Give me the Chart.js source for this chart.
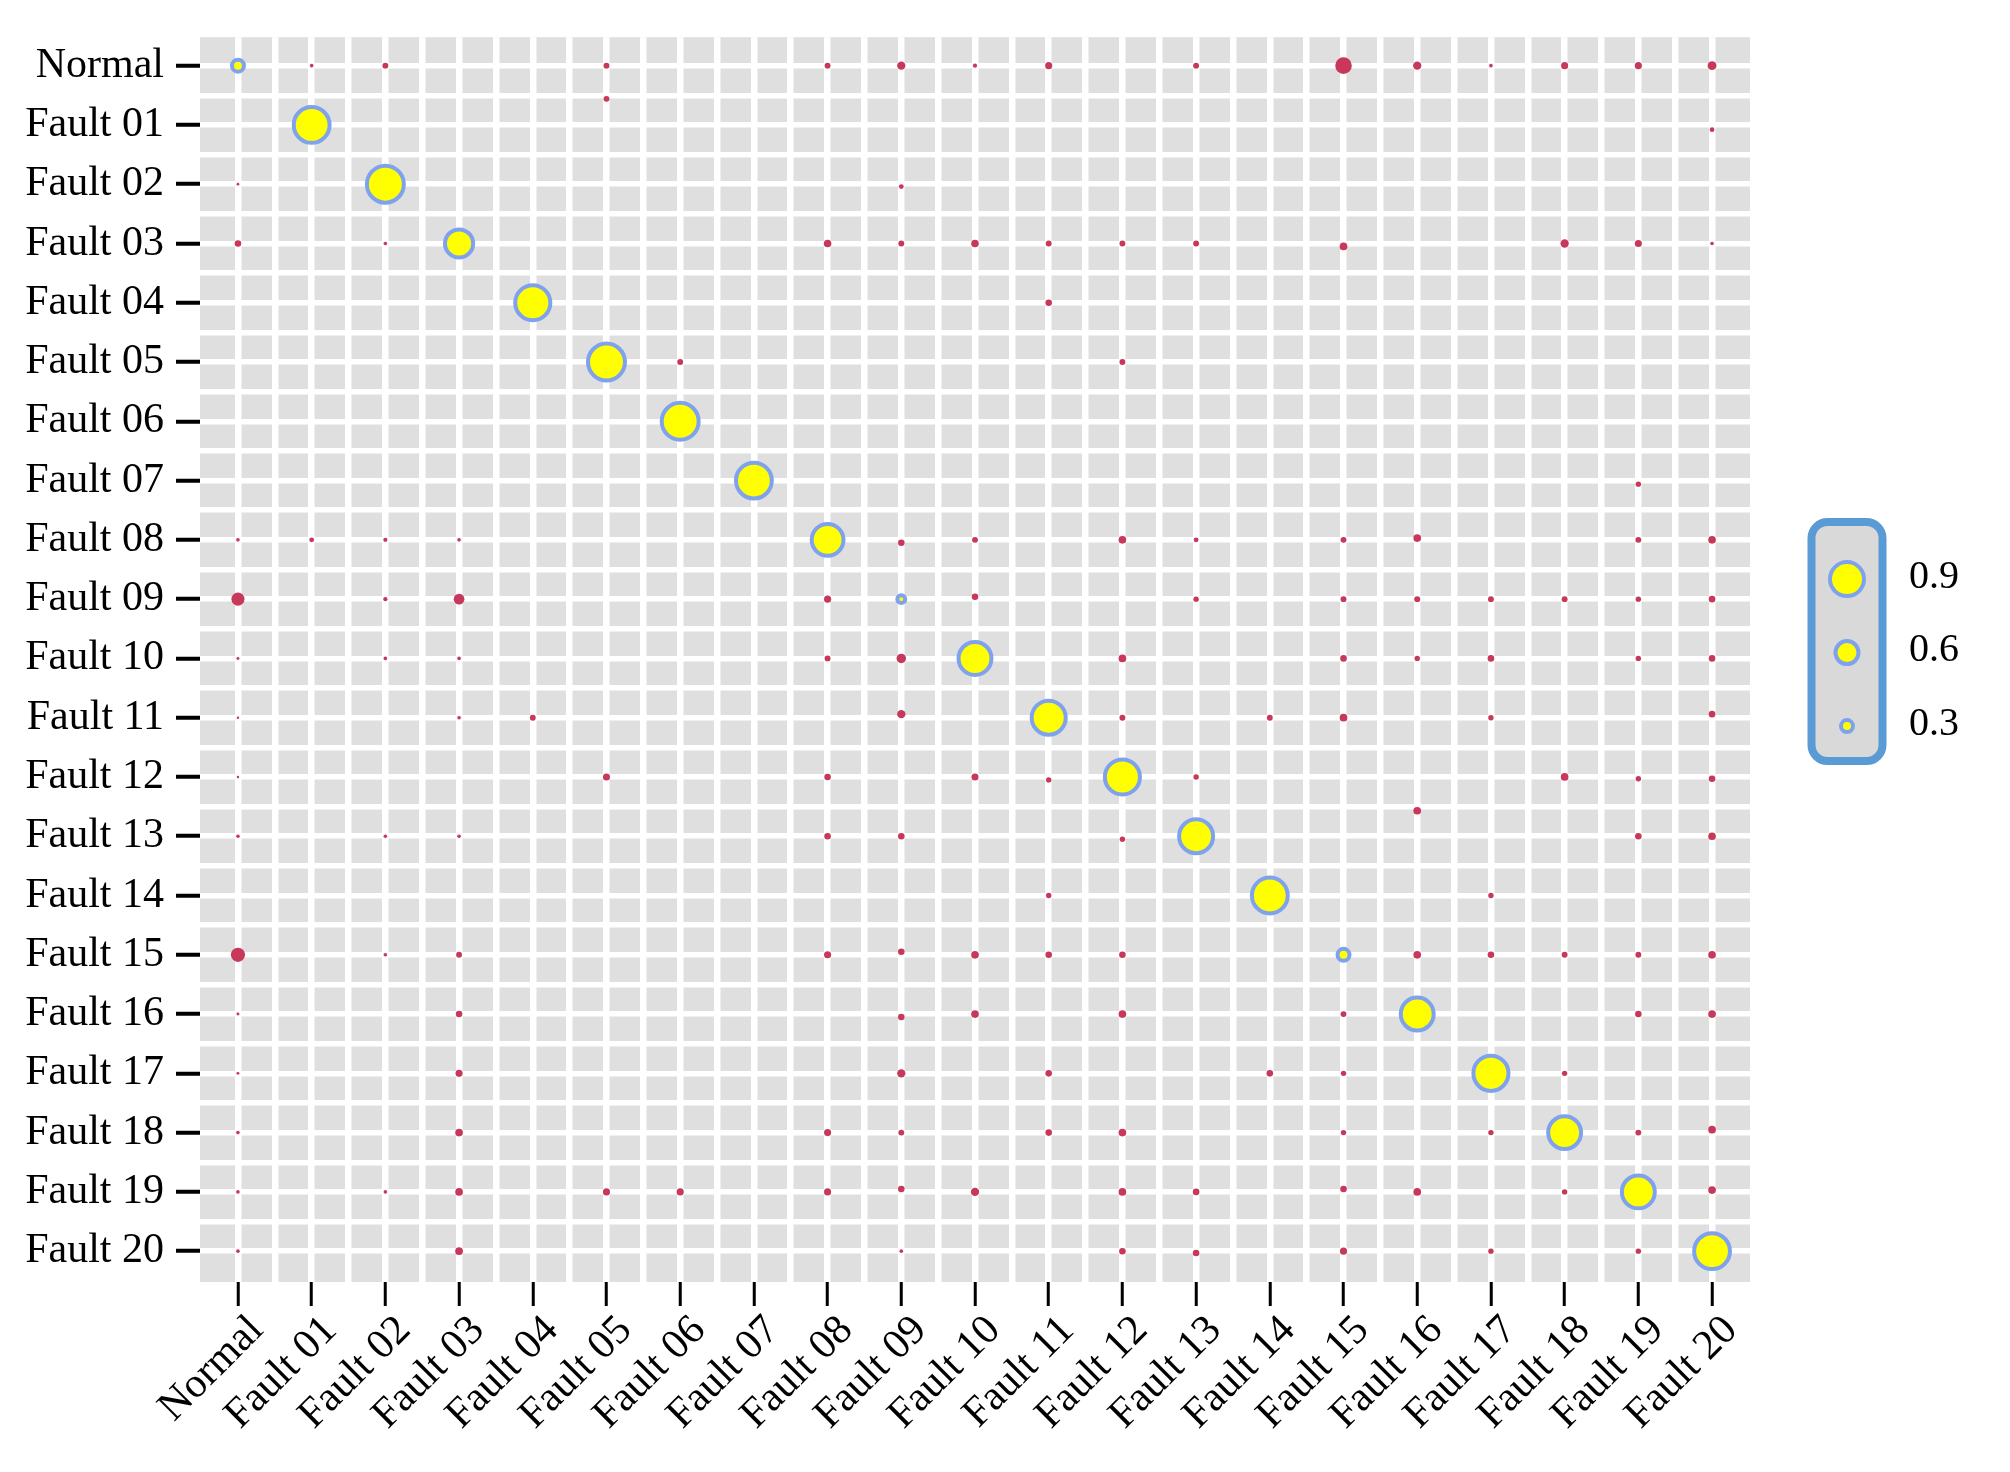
<!DOCTYPE html>
<html>
<head>
<meta charset="utf-8">
<script src="https://cdn.jsdelivr.net/npm/chart.js@4.4.1/dist/chart.umd.min.js"></script>
<style>
  html, body { margin: 0; padding: 0; background: #fff; }
  #wrap { width: 2010px; height: 1472px; }
</style>
</head>
<body>
<div id="wrap"><canvas id="confChart" width="2010" height="1472"></canvas></div>
<script>
// classes (same order on both axes, Normal on top / left)
const classes = ['Normal', 'Fault 01', 'Fault 02', 'Fault 03', 'Fault 04', 'Fault 05', 'Fault 06',
  'Fault 07', 'Fault 08', 'Fault 09', 'Fault 10', 'Fault 11', 'Fault 12', 'Fault 13', 'Fault 14',
  'Fault 15', 'Fault 16', 'Fault 17', 'Fault 18', 'Fault 19', 'Fault 20'];

// correctly classified share per class (yellow bubbles on the diagonal)
const diagonal = [0.30, 0.95, 0.98, 0.74, 0.93, 0.98, 0.98, 0.95, 0.84, 0.19, 0.87,
  0.90, 0.93, 0.90, 0.95, 0.30, 0.87, 0.93, 0.87, 0.87, 0.95];

// misclassified share: [true row, predicted column, share]
const misclassified = [
  [0, 1, .009], [0, 2, .024], [0, 5, .024], [0.56, 5, .024], [0, 8, .024], [0, 9, .048], [0, 10, .012],
  [0, 11, .035], [0, 13, .024], [0, 15, .19], [0, 16, .048], [0, 17, .009], [0, 18, .035], [0, 19, .035], [0, 20, .055],
  [1.08, 20, .016],
  [2, 0, .005], [2.04, 9, .016],
  [3, 0, .03], [3, 2, .009], [3, 8, .04], [3, 9, .024], [3, 10, .04], [3, 11, .024], [3, 12, .024],
  [3, 13, .024], [3.05, 15, .041], [3, 18, .048], [3, 19, .035], [3, 20, .009],
  [4, 11, .03],
  [5, 6, .024], [5, 12, .024],
  [7.06, 19, .02],
  [8, 0, .009], [8, 1, .016], [8, 2, .012], [8, 3, .009], [8.05, 9, .03], [8, 10, .024], [8, 12, .041],
  [8, 13, .016], [8, 15, .024], [7.97, 16, .041], [8, 19, .024], [8, 20, .041],
  [9, 0, .118], [9, 2, .012], [9, 3, .079], [9, 8, .035], [8.96, 10, .03], [9, 13, .02], [9, 15, .024],
  [9, 16, .024], [9, 17, .024], [9, 18, .024], [9, 19, .02], [9, 20, .03],
  [10, 0, .006], [10, 2, .009], [10, 3, .009], [10, 8, .024], [10, 9, .062], [10, 12, .041], [10, 15, .03],
  [10, 16, .02], [10, 17, .03], [10, 19, .02], [10, 20, .03],
  [11, 0, .004], [11, 3, .009], [11, 4, .024], [10.94, 9, .048], [11, 12, .024], [11, 14, .024],
  [11, 15, .041], [11, 17, .02], [10.94, 20, .03],
  [12, 0, .004], [12, 5, .035], [12, 8, .03], [12, 10, .035], [12.05, 11, .02], [12, 13, .02],
  [12, 18, .041], [12.03, 19, .02], [12.03, 20, .03], [12.57, 16, .041],
  [13, 0, .009], [13, 2, .009], [13, 3, .009], [13, 8, .03], [13, 9, .03], [13.05, 12, .02],
  [13, 19, .03], [13, 20, .041],
  [14, 11, .02], [14, 17, .02],
  [15, 0, .14], [15, 2, .009], [15, 3, .024], [15, 8, .035], [14.95, 9, .03], [15, 10, .041], [15, 11, .03],
  [15, 12, .03], [15, 16, .041], [15, 17, .03], [15, 18, .024], [15, 19, .024], [15, 20, .041],
  [16, 0, .006], [16, 3, .03], [16.05, 9, .03], [16, 10, .041], [16, 12, .041], [16, 15, .024],
  [16, 19, .03], [16, 20, .041],
  [17, 0, .006], [17, 3, .035], [17, 9, .048], [17, 11, .03], [17, 14, .03], [17, 15, .02], [17, 18, .02],
  [18, 0, .009], [18, 3, .041], [18, 8, .035], [18, 9, .024], [18, 11, .03], [18, 12, .041], [18, 15, .02],
  [18, 17, .02], [18, 19, .024], [17.95, 20, .041],
  [19, 0, .009], [19, 2, .009], [19, 3, .041], [19, 5, .035], [19, 6, .035], [19, 8, .035], [18.95, 9, .03],
  [19, 10, .048], [19, 12, .041], [19, 13, .03], [18.95, 15, .03], [19, 16, .041], [19, 18, .02], [18.97, 20, .041],
  [20, 0, .009], [20, 3, .041], [20, 9, .009], [20, 12, .03], [20.03, 13, .03], [20, 15, .035],
  [20, 17, .02], [20, 19, .02]
];

// size legend entries
const legendValues = [0.9, 0.6, 0.3];

const YELLOW = '#FFFF00';
const RING = '#7FA2EE';
const MISS = '#C8385A';
const RING_W = 4;
const FONT = { family: 'Liberation Serif', size: 42 };

// outer radius of a diagonal bubble, radius of a red dot
const hitRadius = v => 2.5 + 18.35 * v;
const missRadius = v => 19 * Math.sqrt(v);

// white grid every half category (cell centres and cell borders)
const halfSteps = [];
for (let i = 0; i <= (classes.length - 1) * 2; i++) halfSteps.push(i / 2);

const panel = {
  id: 'panel',
  beforeDraw(chart) {
    const { ctx, chartArea: a } = chart;
    ctx.save();
    ctx.fillStyle = '#fff';
    ctx.fillRect(0, 0, chart.width, chart.height);
    ctx.fillStyle = '#DFDFDF';
    ctx.fillRect(a.left, a.top, a.right - a.left, a.bottom - a.top);
    ctx.restore();
  }
};

const sizeLegend = {
  id: 'sizeLegend',
  afterDraw(chart) {
    const { ctx, chartArea: a } = chart;
    const cx = a.right + 97;
    const step = 73.5;
    const cyMid = (a.top + a.bottom) / 2 - 7;
    const cy0 = cyMid - step;
    ctx.save();
    ctx.lineWidth = 8;
    ctx.strokeStyle = '#5B9BD5';
    ctx.fillStyle = '#D9D9D9';
    ctx.beginPath();
    ctx.roundRect(cx - 35.5, cy0 - 57, 71, 239, 16);
    ctx.fill();
    ctx.stroke();
    ctx.font = '40px ' + FONT.family;
    ctx.textBaseline = 'middle';
    ctx.textAlign = 'left';
    legendValues.forEach((v, i) => {
      const cy = cy0 + i * step;
      ctx.beginPath();
      ctx.arc(cx, cy, hitRadius(v) - RING_W / 2, 0, Math.PI * 2);
      ctx.fillStyle = YELLOW;
      ctx.fill();
      ctx.lineWidth = RING_W;
      ctx.strokeStyle = RING;
      ctx.stroke();
      ctx.fillStyle = '#000';
      ctx.fillText(v.toFixed(1), cx + 62, cy - 2);
    });
    ctx.restore();
  }
};

const tickMark = c => Number.isInteger(c.tick.value) ? '#000' : 'rgba(0,0,0,0)';
const tickLabel = v => Number.isInteger(v) ? classes[v] : '';

new Chart(document.getElementById('confChart'), {
  type: 'scatter',
  data: {
    datasets: [
      {
        label: 'correct',
        data: diagonal.map((v, i) => ({ x: i, y: i, v: v })),
        backgroundColor: YELLOW,
        borderColor: RING,
        borderWidth: RING_W,
        pointRadius: c => hitRadius(c.raw.v) - RING_W / 2,
        clip: false
      },
      {
        label: 'misclassified',
        data: misclassified.map(d => ({ x: d[1], y: d[0], v: d[2] })),
        backgroundColor: MISS,
        borderWidth: 0,
        pointRadius: c => missRadius(c.raw.v),
        clip: false
      }
    ]
  },
  options: {
    responsive: false,
    animation: false,
    events: [],
    layout: { padding: { left: 0, right: 260, top: 36, bottom: 0 } },
    plugins: { legend: { display: false }, tooltip: { enabled: false } },
    scales: {
      x: {
        type: 'linear',
        min: -0.515,
        max: 20.515,
        afterBuildTicks: s => { s.ticks = halfSteps.map(v => ({ value: v })); },
        afterFit: s => { s.height = 190; },
        border: { display: false },
        grid: { color: '#fff', lineWidth: 6.5, tickLength: 24, tickWidth: 3, tickColor: tickMark },
        ticks: { autoSkip: false, minRotation: 45, maxRotation: 45, padding: 0, labelOffset: 19,
          color: '#000', font: FONT, callback: tickLabel }
      },
      y: {
        type: 'linear',
        reverse: true,
        min: -0.48,
        max: 20.52,
        afterBuildTicks: s => { s.ticks = halfSteps.map(v => ({ value: v })); },
        afterFit: s => { s.width = 200; },
        border: { display: false },
        grid: { color: '#fff', lineWidth: 5.5, tickLength: 24, tickWidth: 4, tickColor: tickMark },
        ticks: { autoSkip: false, padding: 12, color: '#000', font: FONT, callback: tickLabel }
      }
    }
  },
  plugins: [panel, sizeLegend]
});
</script>
</body>
</html>
